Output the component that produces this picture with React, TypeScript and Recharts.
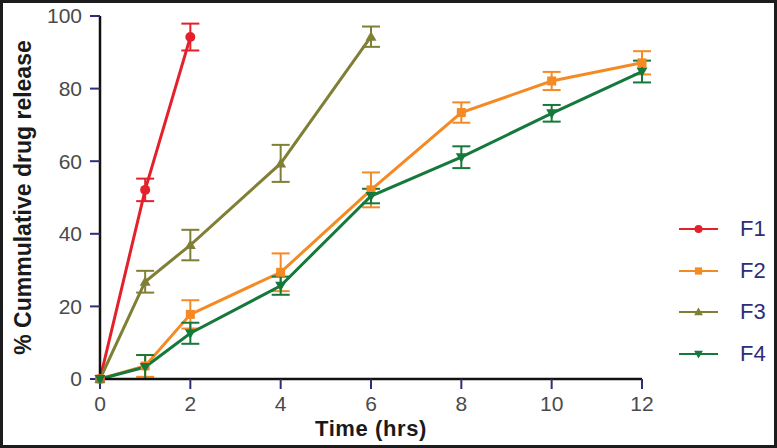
import React from 'react';
import { LineChart, Line, XAxis, YAxis, ErrorBar, Legend } from 'recharts';

const xTicks = [0, 2, 4, 6, 8, 10, 12];
const yTicks = [0, 20, 40, 60, 80, 100];

const f1Time = [0, 1, 2];
const f1Value = [0, 52.1, 94.2];
const f1Err = [0, 3.1, 3.7];

const f2Time = [0, 1, 2, 4, 6, 8, 10, 12];
const f2Value = [0, 3.6, 17.8, 29.4, 52.1, 73.4, 82.1, 87.1];
const f2Err = [0, 3, 3.9, 5.2, 4.8, 2.8, 2.5, 3.2];

const f3Time = [0, 1, 2, 4, 6];
const f3Value = [0, 26.8, 36.9, 59.4, 94.3];
const f3Err = [0, 3, 4.2, 5.1, 2.8];

const f4Time = [0, 1, 2, 4, 6, 8, 10, 12];
const f4Value = [0, 3.3, 12.6, 25.7, 50.4, 61.1, 73.2, 84.7];
const f4Err = [0, 3.3, 2.9, 2.5, 2, 3, 2.3, 3];

const build = (t: number[], v: number[], e: number[]) =>
  t.map((x, i) => ({ time: x, value: v[i], err: e[i] }));

const series = [
  { name: 'F1', color: '#e4202b', shape: 'circle', data: build(f1Time, f1Value, f1Err) },
  { name: 'F2', color: '#f58a24', shape: 'square', data: build(f2Time, f2Value, f2Err) },
  { name: 'F3', color: '#7f7f35', shape: 'up', data: build(f3Time, f3Value, f3Err) },
  { name: 'F4', color: '#14793b', shape: 'down', data: build(f4Time, f4Value, f4Err) },
];

const FONT = '"Liberation Sans", Arial, Helvetica, sans-serif';

function MarkerShape({ shape, cx, cy, color, s }: any) {
  if (cx == null || cy == null) return null;
  if (shape === 'circle') return <circle cx={cx} cy={cy} r={s * 0.5} fill={color} stroke="none" />;
  if (shape === 'square')
    return <rect x={cx - s * 0.45} y={cy - s * 0.45} width={s * 0.9} height={s * 0.9} fill={color} />;
  if (shape === 'up')
    return (
      <polygon
        points={`${cx},${cy - s * 0.55} ${cx - s * 0.55},${cy + s * 0.4} ${cx + s * 0.55},${cy + s * 0.4}`}
        fill={color}
      />
    );
  return (
    <polygon
      points={`${cx},${cy + s * 0.55} ${cx - s * 0.55},${cy - s * 0.4} ${cx + s * 0.55},${cy - s * 0.4}`}
      fill={color}
    />
  );
}

const LegendContent = () => (
  <div style={{ fontFamily: FONT }}>
    {series.map((s) => (
      <div key={s.name} style={{ display: 'flex', alignItems: 'center', height: 41.7 }}>
        <svg width={44} height={20} style={{ display: 'block' }}>
          <line x1={4} y1={10} x2={43} y2={10} stroke={s.color} strokeWidth={2} />
          <MarkerShape shape={s.shape} cx={23.5} cy={10} color={s.color} s={8} />
        </svg>
        <span style={{ marginLeft: 21, fontSize: 22, color: '#2e2d78', lineHeight: '22px' }}>{s.name}</span>
      </div>
    ))}
  </div>
);

const tickStyle = { fontSize: 21, fill: '#4a4a4a', fontFamily: FONT };

export default function App() {
  return (
    <div style={{ position: 'absolute', left: 0, top: 0, width: 777, height: 448, background: '#fff' }}>
      <LineChart width={777} height={448} margin={{ top: 16, right: 135, bottom: 0, left: 0 }}>
        <XAxis
          type="number"
          dataKey="time"
          domain={[0, 12]}
          ticks={xTicks}
          height={69}
          tickSize={10}
          tickMargin={7}
          axisLine={{ stroke: '#111', strokeWidth: 2.5 }}
          tickLine={{ stroke: '#2e2d78', strokeWidth: 2 }}
          tick={tickStyle}
          allowDuplicatedCategory={false}
          label={(props: any) => (
            <text
              x={371}
              y={436}
              textAnchor="middle"
              style={{ fontSize: 22, fontWeight: 'bold', fill: '#1a1a1a', fontFamily: FONT, letterSpacing: 0.6 }}
            >
              Time (hrs)
            </text>
          )}
        />
        <YAxis
          type="number"
          domain={[0, 100]}
          ticks={yTicks}
          width={100}
          tickSize={10}
          tickMargin={8}
          axisLine={{ stroke: '#111', strokeWidth: 2.5 }}
          tickLine={{ stroke: '#2e2d78', strokeWidth: 2 }}
          tick={tickStyle}
          label={(props: any) => (
            <text
              transform="translate(31,197.5) rotate(-90)"
              textAnchor="middle"
              style={{ fontSize: 23, fontWeight: 'bold', fill: '#1a1a1a', fontFamily: FONT }}
            >
              % Cummulative drug release
            </text>
          )}
        />
        <Legend
          layout="horizontal"
          verticalAlign="middle"
          align="center"
          content={LegendContent}
          wrapperStyle={{ left: 675, top: 208, width: 100, height: 170 }}
        />
        {series.map((s) => (
          <Line
            key={s.name}
            data={s.data}
            dataKey="value"
            name={s.name}
            stroke={s.color}
            strokeWidth={3}
            isAnimationActive={false}
            dot={(p: any) => (
              <MarkerShape key={`${s.name}-${p.index}`} shape={s.shape} cx={p.cx} cy={p.cy} color={s.color} s={10} />
            )}
            activeDot={false}
          >
            <ErrorBar dataKey="err" direction="y" width={9} strokeWidth={2} stroke={s.color} isAnimationActive={false} />
          </Line>
        ))}
      </LineChart>
      <div
        style={{
          position: 'absolute',
          left: 0,
          top: 0,
          width: 777,
          height: 448,
          border: '3px solid #1c1c1c',
          boxSizing: 'border-box',
          pointerEvents: 'none',
        }}
      />
    </div>
  );
}
